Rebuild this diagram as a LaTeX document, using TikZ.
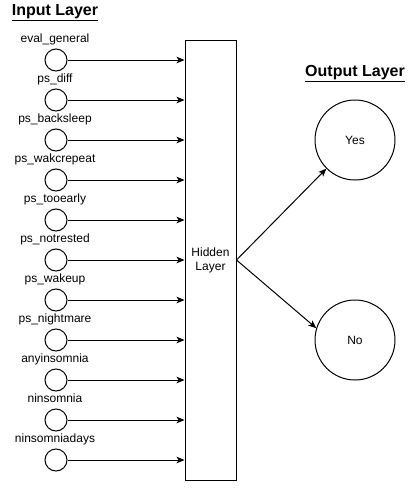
\documentclass[tikz,border=0pt]{standalone}
\usepackage{fontspec}
\setmainfont{Liberation Sans}
\usetikzlibrary{arrows.meta}
\begin{document}
\begin{tikzpicture}[x=0.75pt,y=-0.75pt,line width=0.75pt,
  font=\fontsize{9}{10.5}\selectfont,
  innode/.style={draw,circle,inner sep=0pt,minimum size=16.5pt},
  outnode/.style={draw,circle,inner sep=0pt,minimum size=60pt},
  link/.style={-{Stealth[length=6pt,width=5pt,inset=1.5pt]}},
  heading/.style={font=\fontsize{12}{14}\selectfont\bfseries,anchor=base}]
\useasboundingbox (0,0) rectangle (417,490);
\node[heading] (intitle) at (55,15) {\underline{Input Layer}};
\node[heading] (outtitle) at (355,76) {\underline{Output Layer}};
\node[draw,minimum width=38.25pt,minimum height=330pt,align=center,inner sep=0pt] (hidden) at (210.5,260) {Hidden\\Layer};
% input nodes
\foreach \lab [count=\i] in {eval\_general,ps\_diff,ps\_backsleep,ps\_wakcrepeat,ps\_tooearly,ps\_notrested,ps\_wakeup,ps\_nightmare,anyinsomnia,ninsomnia,ninsomniadays}
{
\node[innode] (in\i) at (56,{20+40*\i}) {};
\node[anchor=base] (lab\i) at (55,{2+40*\i}) {\lab};
\draw[link] (in\i) -- (in\i -| hidden.west);
}
% output nodes
\node[outnode] (yes) at (355,140) {Yes};
\node[outnode] (no) at (355,340) {No};
\draw[link] (hidden.east) -- (yes.225);
\draw[link] (hidden.east) -- (no.163);
\end{tikzpicture}
\end{document}
